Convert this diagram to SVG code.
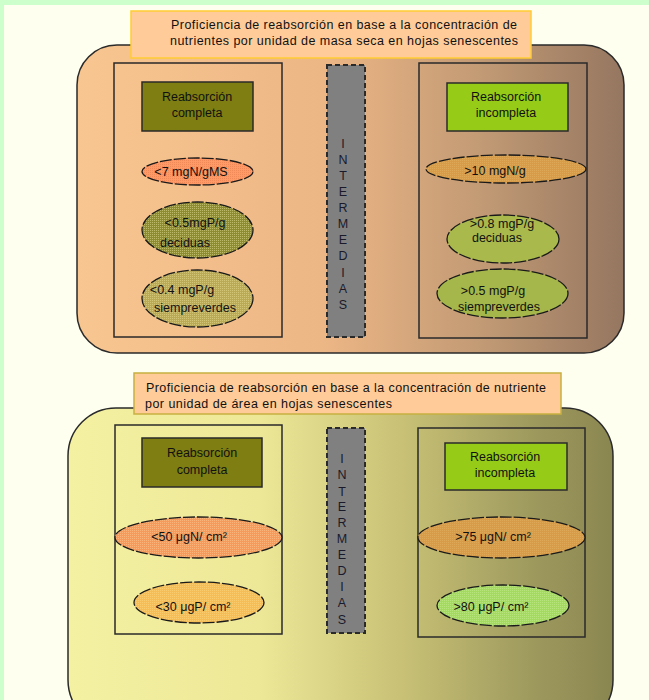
<svg xmlns="http://www.w3.org/2000/svg" width="649" height="700" viewBox="0 0 649 700">
<defs>
<linearGradient id="gTop" x1="0" y1="0" x2="1" y2="0">
<stop offset="0" stop-color="#F8C690"/>
<stop offset="0.45" stop-color="#EDB685"/>
<stop offset="0.75" stop-color="#C09974"/>
<stop offset="1" stop-color="#957660"/>
</linearGradient>
<linearGradient id="gBot" x1="0" y1="0" x2="1" y2="0">
<stop offset="0" stop-color="#F4F1A2"/>
<stop offset="0.35" stop-color="#EDE898"/>
<stop offset="0.6" stop-color="#CAC377"/>
<stop offset="0.85" stop-color="#9E9A5E"/>
<stop offset="1" stop-color="#8A8650"/>
</linearGradient>
<pattern id="pSalmon" width="2" height="2" patternUnits="userSpaceOnUse"><rect width="2" height="2" fill="#FF9966"/><rect width="1" height="1" fill="#F08A58"/></pattern>
<pattern id="pOlive" width="2" height="2" patternUnits="userSpaceOnUse"><rect width="2" height="2" fill="#8E8C30"/><rect width="1" height="1" fill="#BDB96A"/></pattern>
<pattern id="pKhaki" width="2" height="2" patternUnits="userSpaceOnUse"><rect width="2" height="2" fill="#BBAA55"/><rect width="1" height="1" fill="#D2C578"/></pattern>
<pattern id="pOrangeB" width="2" height="2" patternUnits="userSpaceOnUse"><rect width="2" height="2" fill="#F59A5A"/><rect width="1" height="1" fill="#F8B47A"/></pattern>
<pattern id="pLtOrange" width="2" height="2" patternUnits="userSpaceOnUse"><rect width="2" height="2" fill="#F6BC55"/><rect width="1" height="1" fill="#F9CC70"/></pattern>
<pattern id="pAmber" width="2" height="2" patternUnits="userSpaceOnUse"><rect width="2" height="2" fill="#D89B48"/><rect width="1" height="1" fill="#DDA857"/></pattern>
<pattern id="pLtGreen" width="2" height="2" patternUnits="userSpaceOnUse"><rect width="2" height="2" fill="#A4DA60"/><rect width="1" height="1" fill="#B8E47E"/></pattern>
</defs>
<style>
text{font-family:"Liberation Sans",Arial,sans-serif;font-size:12.5px;fill:#111}
.c{text-anchor:middle}
.panel{stroke:#2a2a2a;stroke-width:1.5}
.inner{fill:none;stroke:#2a2a2a;stroke-width:1.5}
.comp{fill:#7E7E12;stroke:#2a2a2a;stroke-width:1.5}
.incomp{fill:#96CC18;stroke:#2a2a2a;stroke-width:1.5}
.mid{fill:#808080;stroke:#2a2a2a;stroke-width:2;stroke-dasharray:5 3}
.ell{stroke:#1a1a1a;stroke-width:1.3;stroke-dasharray:12 2}
.let{font-size:12.5px;text-anchor:middle;fill:#1a1a2a}
</style>
<rect width="649" height="700" fill="#FFFFF0"/>
<rect width="649" height="5" fill="#CCFFCC"/>
<rect width="4" height="700" fill="#CCFFCC"/>

<g id="panel-top">
<rect class="panel" x="77" y="45" width="547" height="308" rx="40" fill="url(#gTop)"/>
</g>
<g id="title-top">
<rect x="131" y="11" width="400" height="47" fill="#FFCC99" stroke="#FFCC33" stroke-width="1.5"/>
<text x="171" y="29" textLength="346">Proficiencia de reabsorción en base a la concentración de</text>
<text x="170" y="45" textLength="348">nutrientes por unidad de masa seca en hojas senescentes</text>
</g>
<g id="left-top">
<rect class="inner" x="114" y="63" width="168" height="274"/>
</g>
<g id="completa-top">
<rect class="comp" x="142" y="82" width="111" height="49"/>
<text class="c" x="197" y="101">Reabsorción</text>
<text class="c" x="197" y="117">completa</text>
</g>
<g id="e-7mgN">
<ellipse class="ell" cx="197.5" cy="171.5" rx="55.5" ry="13.5" fill="url(#pSalmon)"/>
<text class="c" x="191" y="176">&lt;7 mgN/gMS</text>
</g>
<g id="e-05mgP">
<ellipse class="ell" cx="197.5" cy="230" rx="55.5" ry="28" fill="url(#pOlive)"/>
<text class="c" x="195" y="227">&lt;0.5mgP/g</text>
<text class="c" x="185" y="247">deciduas</text>
</g>
<g id="e-04mgP">
<ellipse class="ell" cx="197.5" cy="298.5" rx="55.5" ry="28.5" fill="url(#pKhaki)"/>
<text class="c" x="182" y="294">&lt;0.4 mgP/g</text>
<text class="c" x="195" y="312">siempreverdes</text>
</g>
<g id="intermedias-top">
<rect class="mid" x="327" y="65" width="38" height="272"/>
<text class="let" x="343" y="148">I</text>
<text class="let" x="343" y="164">N</text>
<text class="let" x="343" y="180">T</text>
<text class="let" x="343" y="196">E</text>
<text class="let" x="343" y="212">R</text>
<text class="let" x="343" y="228">M</text>
<text class="let" x="343" y="244">E</text>
<text class="let" x="343" y="260">D</text>
<text class="let" x="343" y="277">I</text>
<text class="let" x="343" y="293">A</text>
<text class="let" x="343" y="309">S</text>
</g>
<g id="right-top">
<rect class="inner" x="419" y="63" width="168" height="275"/>
</g>
<g id="incompleta-top">
<rect class="incomp" x="447" y="83" width="121" height="48"/>
<text class="c" x="506" y="101">Reabsorción</text>
<text class="c" x="506" y="117">incompleta</text>
</g>
<g id="e-10mgN">
<ellipse class="ell" cx="506" cy="169" rx="80" ry="14" fill="url(#pAmber)"/>
<text class="c" x="495" y="175">&gt;10 mgN/g</text>
</g>
<g id="e-08mgP">
<ellipse class="ell" cx="503" cy="239" rx="56" ry="24" fill="#A9B94C"/>
<text class="c" x="502" y="228">&gt;0.8 mgP/g</text>
<text class="c" x="497" y="242">deciduas</text>
</g>
<g id="e-05mgP-r">
<ellipse class="ell" cx="502.5" cy="293.5" rx="65.5" ry="24.5" fill="#A5B64A"/>
<text class="c" x="493" y="295">&gt;0.5 mgP/g</text>
<text class="c" x="499" y="311">siempreverdes</text>
</g>

<g id="panel-bottom">
<rect class="panel" x="68" y="408" width="545" height="320" rx="48" fill="url(#gBot)"/>
</g>
<g id="title-bottom">
<rect x="134" y="373" width="427" height="41" fill="#FFCC99" stroke="#C8B040" stroke-width="1.5"/>
<text x="146" y="392" textLength="400">Proficiencia de reabsorción en base a la concentración de nutriente</text>
<text x="145" y="408" textLength="247">por unidad de área en hojas senescentes</text>
</g>
<g id="left-bottom">
<rect class="inner" x="115" y="425" width="167" height="209"/>
</g>
<g id="completa-bottom">
<rect class="comp" x="142" y="438" width="120" height="49"/>
<text class="c" x="202" y="457">Reabsorción</text>
<text class="c" x="202" y="474">completa</text>
</g>
<g id="e-50ugN">
<ellipse class="ell" cx="198.5" cy="537.5" rx="83.5" ry="20.5" fill="url(#pOrangeB)"/>
<text class="c" x="189" y="541">&lt;50 μgN/ cm²</text>
</g>
<g id="e-30ugP">
<ellipse class="ell" cx="199" cy="602.5" rx="65" ry="20.5" fill="url(#pLtOrange)"/>
<text class="c" x="193" y="611">&lt;30 μgP/ cm²</text>
</g>
<g id="intermedias-bottom">
<rect class="mid" x="327" y="428" width="38" height="205"/>
<text class="let" x="342" y="463">I</text>
<text class="let" x="342" y="479">N</text>
<text class="let" x="342" y="496">T</text>
<text class="let" x="342" y="511">E</text>
<text class="let" x="342" y="527">R</text>
<text class="let" x="342" y="543">M</text>
<text class="let" x="342" y="559">E</text>
<text class="let" x="342" y="575">D</text>
<text class="let" x="342" y="591">I</text>
<text class="let" x="342" y="607">A</text>
<text class="let" x="342" y="624">S</text>
</g>
<g id="right-bottom">
<rect class="inner" x="418" y="428" width="167" height="209"/>
</g>
<g id="incompleta-bottom">
<rect class="incomp" x="445" y="443" width="122" height="47"/>
<text class="c" x="505" y="461">Reabsorción</text>
<text class="c" x="505" y="477">incompleta</text>
</g>
<g id="e-75ugN">
<ellipse class="ell" cx="501.5" cy="537.5" rx="83.5" ry="20.5" fill="url(#pAmber)"/>
<text class="c" x="493" y="541">&gt;75 μgN/ cm²</text>
</g>
<g id="e-80ugP">
<ellipse class="ell" cx="503" cy="605.5" rx="66" ry="20.5" fill="url(#pLtGreen)"/>
<text class="c" x="491" y="611">&gt;80 μgP/ cm²</text>
</g>
<g id="connectors"></g>
</svg>
